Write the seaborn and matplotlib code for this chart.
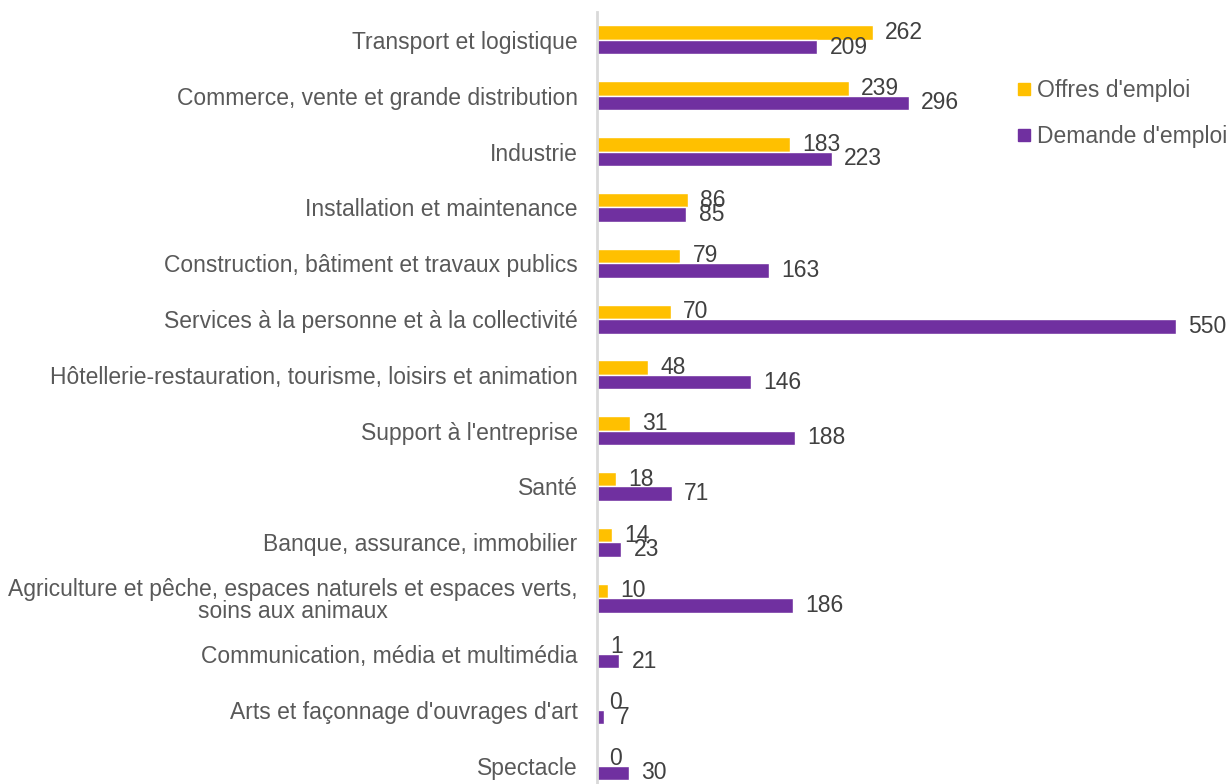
import numpy as np
import pandas as pd
import seaborn as sns
import matplotlib.pyplot as plt
from matplotlib.lines import Line2D

categories = [
    "Transport et logistique",
    "Commerce, vente et grande distribution",
    "Industrie",
    "Installation et maintenance",
    "Construction, bâtiment et travaux publics",
    "Services à la personne et à la collectivité",
    "Hôtellerie-restauration, tourisme, loisirs et animation",
    "Support à l'entreprise",
    "Santé",
    "Banque, assurance, immobilier",
    "Agriculture et pêche, espaces naturels et espaces verts,\nsoins aux animaux",
    "Communication, média et multimédia",
    "Arts et façonnage d'ouvrages d'art",
    "Spectacle",
]
offres = [262, 239, 183, 86, 79, 70, 48, 31, 18, 14, 10, 1, 0, 0]
demandes = [209, 296, 223, 85, 163, 550, 146, 188, 71, 23, 186, 21, 7, 30]
series = ["Offres d'emploi", "Demande d'emploi"]
colors = ["#FFC000", "#7030A0"]

df = pd.DataFrame({
    "metier": categories * 2,
    "valeur": offres + demandes,
    "serie": [series[0]] * len(categories) + [series[1]] * len(categories),
})

sns.set_style("white")
plt.rcParams['font.family'] = ['Liberation Sans', 'DejaVu Sans']

fig = plt.figure(figsize=(12.32, 7.84), dpi=100)
# axes spans from the vertical axis line to the end of the longest bar
ax = fig.add_axes([597 / 1232, 0, (1176 - 597) / 1232, 772 / 784])

sns.barplot(data=df, y="metier", x="valeur", hue="serie", orient="h",
            palette=colors, width=0.52, ax=ax, legend=False, saturation=1)

for i, cont in enumerate(ax.containers):
    labels = ax.bar_label(cont, padding=9, fontsize=16.5, color="#404040", clip_on=False)
    if i == 1:
        # purple labels sit a touch lower in the original
        for t in labels:
            t.set_y(t.get_position()[1])
            t.set_va("center")

ax.set_xlim(0, 550)
ax.set_ylim(13.33, -0.5)
ax.set_xlabel("")
ax.set_ylabel("")
ax.set_xticks([])
ax.tick_params(axis="y", length=0, pad=14, labelsize=16.5, labelcolor="#595959")
for lab in ax.get_yticklabels():
    lab.set_multialignment("center")
    lab.set_linespacing(0.97)

for s in ["top", "right", "bottom"]:
    ax.spines[s].set_visible(False)
ax.spines["left"].set_color("#D9D9D9")
ax.spines["left"].set_linewidth(2)

handles = [Line2D([], [], marker="s", linestyle="", markersize=8.6, color=c) for c in colors]
leg = fig.legend(handles, series, loc="upper left", bbox_to_anchor=(1003 / 1232, 1 - 70 / 784),
                 frameon=False, fontsize=16.5, labelspacing=1.0, handletextpad=0.1,
                 handlelength=1.0, borderaxespad=0)
for t in leg.get_texts():
    t.set_color("#595959")

fig.savefig("out.png", dpi=100)
